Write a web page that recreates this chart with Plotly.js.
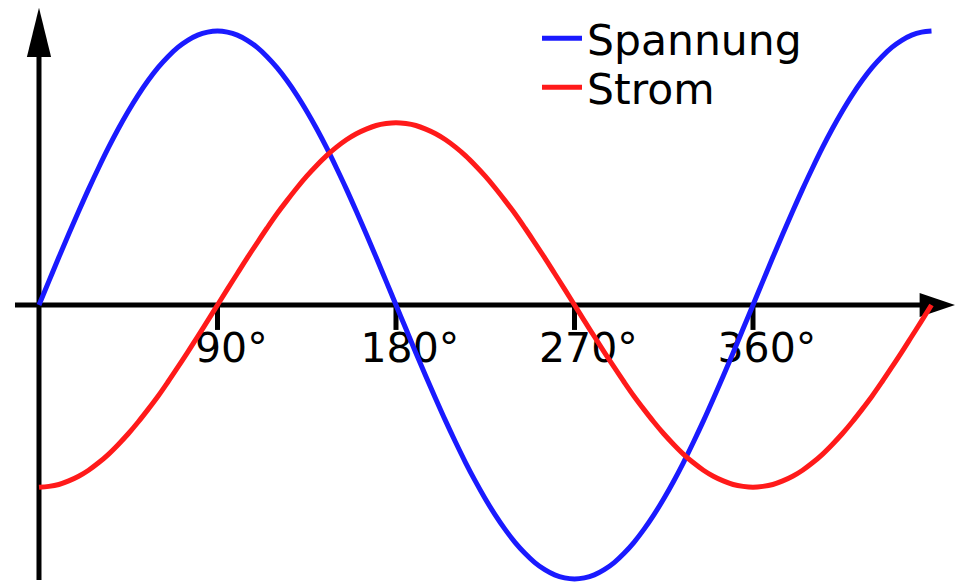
<!DOCTYPE html>
<html>
<head>
<meta charset="utf-8">
<script src="https://cdn.plot.ly/plotly-3.0.1.min.js"></script>
<style>html,body{margin:0;padding:0;background:#fff;}#chart{width:955px;height:583px;}</style>
</head>
<body>
<div id="chart"></div>
<script>
// Phase angle in degrees (5° steps)
const angle = [0,5,10,15,20,25,30,35,40,45,50,55,60,65,70,75,80,85,90,95,100,105,110,115,120,125,130,135,140,145,150,155,160,165,170,175,180,185,190,195,200,205,210,215,220,225,230,235,240,245,250,255,260,265,270,275,280,285,290,295,300,305,310,315,320,325,330,335,340,345,350,355,360,365,370,375,380,385,390,395,400,405,410,415,420,425,430,435,440,445,450];
// Spannung (voltage), normalised to its peak
const spannung = [0,0.087,0.174,0.259,0.342,0.423,0.5,0.574,0.643,0.707,0.766,0.819,0.866,0.906,0.940,0.966,0.985,0.996,1,0.996,0.985,0.966,0.940,0.906,0.866,0.819,0.766,0.707,0.643,0.574,0.5,0.423,0.342,0.259,0.174,0.087,0,-0.087,-0.174,-0.259,-0.342,-0.423,-0.5,-0.574,-0.643,-0.707,-0.766,-0.819,-0.866,-0.906,-0.940,-0.966,-0.985,-0.996,-1,-0.996,-0.985,-0.966,-0.940,-0.906,-0.866,-0.819,-0.766,-0.707,-0.643,-0.574,-0.5,-0.423,-0.342,-0.259,-0.174,-0.087,0,0.087,0.174,0.259,0.342,0.423,0.5,0.574,0.643,0.707,0.766,0.819,0.866,0.906,0.940,0.966,0.985,0.996,1];
// Strom (current), same scale
const strom = [-0.665,-0.662,-0.655,-0.642,-0.625,-0.603,-0.576,-0.545,-0.509,-0.470,-0.427,-0.381,-0.333,-0.281,-0.227,-0.172,-0.115,-0.058,0,0.058,0.115,0.172,0.227,0.281,0.333,0.381,0.427,0.470,0.509,0.545,0.576,0.603,0.625,0.642,0.655,0.662,0.665,0.662,0.655,0.642,0.625,0.603,0.576,0.545,0.509,0.470,0.427,0.381,0.333,0.281,0.227,0.172,0.115,0.058,0,-0.058,-0.115,-0.172,-0.227,-0.281,-0.333,-0.381,-0.427,-0.470,-0.509,-0.545,-0.576,-0.603,-0.625,-0.642,-0.655,-0.662,-0.665,-0.662,-0.655,-0.642,-0.625,-0.603,-0.576,-0.545,-0.509,-0.470,-0.427,-0.381,-0.333,-0.281,-0.227,-0.172,-0.115,-0.058,0];
// Tick positions and labels
const tickVals = [90,180,270,360];
const tickLabels = ["90°","180°","270°","360°"];

const FONT = "DejaVu Sans, sans-serif";
const LABEL_OFFSET = 7;   // labels sit a little right of their tick (in degrees)
const LABEL_Y = -0.172;

const traces = [
  {x: tickVals.map(v => v + LABEL_OFFSET), y: tickVals.map(() => LABEL_Y), text: tickLabels,
   type: "scatter", mode: "text", textposition: "middle center", showlegend: false, hoverinfo: "skip",
   textfont: {family: FONT, size: 41, color: "#000"}},
  {x: angle, y: spannung, name: "Spannung", type: "scatter", mode: "lines",
   line: {color: "#1a1aff", width: 5, shape: "spline", smoothing: 1}, legend: "legend"},
  {x: angle, y: strom, name: "Strom", type: "scatter", mode: "lines",
   line: {color: "#ff1a1a", width: 5, shape: "spline", smoothing: 1}, legend: "legend2"}
];

const shapes = [
  // y axis
  {type: "line", xref: "x", yref: "y", x0: 0, x1: 0, y0: -1.004, y1: 0.92, line: {color: "#000", width: 5}, layer: "below"},
  {type: "path", xref: "x", yref: "y", path: "M -6.1 0.905 L 6.1 0.905 L 0 1.085 Z", fillcolor: "#000", line: {width: 0}, layer: "below"},
  // x axis
  {type: "line", xref: "x", yref: "y", x0: -12.1, x1: 445, y0: 0, y1: 0, line: {color: "#000", width: 5}, layer: "below"},
  {type: "path", xref: "x", yref: "y", path: "M 444 0.044 L 444 -0.044 L 461.9 0 Z", fillcolor: "#000", line: {width: 0}, layer: "below"}
];
tickVals.forEach(v => shapes.push({type: "line", xref: "x", yref: "y", x0: v, x1: v, y0: 0, y1: -0.091, line: {color: "#000", width: 5}, layer: "below"}));

const legendStyle = {xanchor: "left", yanchor: "top", bgcolor: "rgba(0,0,0,0)", borderwidth: 0,
                     font: {family: FONT, size: 42.5, color: "#000"}, itemwidth: 40};

const layout = {
  width: 955, height: 583,
  margin: {l: 0, r: 0, t: 0, b: 0},
  paper_bgcolor: "#fff", plot_bgcolor: "#fff",
  xaxis: {range: [-19.66, 461.85], visible: false, fixedrange: true},
  yaxis: {range: [-1.0146, 1.1131], visible: false, fixedrange: true},
  showlegend: true,
  legend: Object.assign({x: 0.5623, y: 0.993}, legendStyle),
  legend2: Object.assign({x: 0.5623, y: 0.909}, legendStyle),
  shapes: shapes
};

Plotly.newPlot("chart", traces, layout, {displayModeBar: false, staticPlot: true});
</script>
</body>
</html>
